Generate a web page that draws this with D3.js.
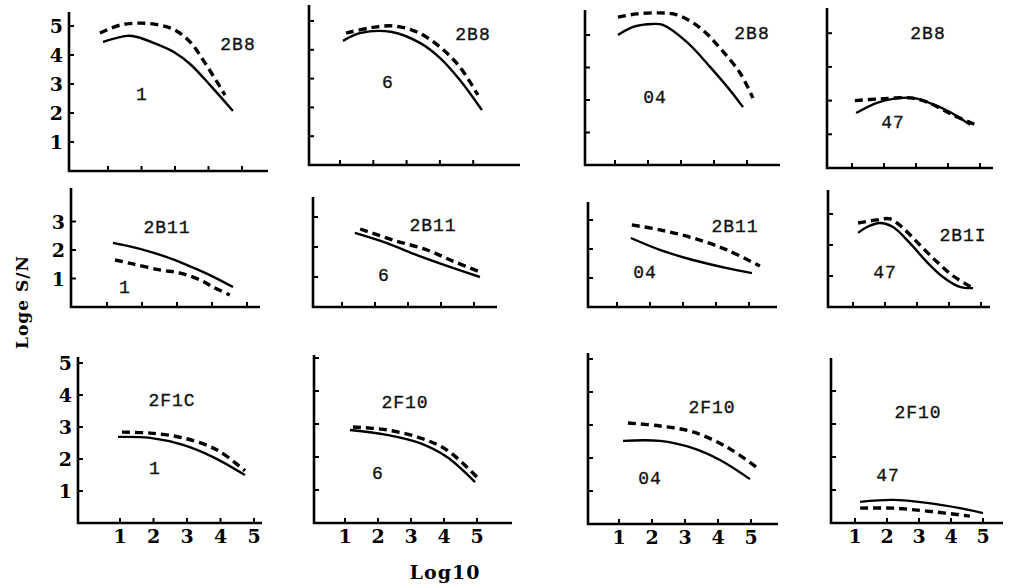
<!DOCTYPE html>
<html>
<head>
<meta charset="utf-8">
<script src="https://cdn.jsdelivr.net/npm/d3@7"></script>
<style>
  body { margin: 0; background: #fff; }
  svg { display: block; }
  .lab { font-family: "Liberation Mono", "DejaVu Sans Mono", monospace; fill: #111; stroke: #111; stroke-width: 0.35px; }
  .num { font-family: "DejaVu Serif", "Liberation Serif", serif; font-weight: bold; fill: #000; }
</style>
</head>
<body>
<div id="graf"></div>
<script>
// valores: [log10, loge S/N]
rows = ['2B8', '2B11', '2F10']
rowLabels = [['2B8', '2B8', '2B8', '2B8'], ['2B11', '2B11', '2B11', '2B1I'], ['2F1C', '2F10', '2F10', '2F10']]
cols = ['1', '6', '04', '47']
xTicks = [1, 2, 3, 4, 5]
yTicks = [[1, 2, 3, 4, 5], [1, 2, 3], [1, 2, 3, 4, 5]]

b8_1_solid  = [[0.85,4.45],[1.57,4.66],[1.87,4.62],[2.4,4.4],[3.0,4.08],[3.45,3.69],[4.04,2.97],[4.73,2.07]]
b8_1_dash   = [[0.76,4.76],[1.36,5.03],[1.96,5.1],[2.55,5.03],[3.0,4.86],[3.45,4.45],[3.9,3.72],[4.49,2.62]]
b8_6_solid  = [[1.09,4.31],[1.6,4.58],[2.56,4.62],[3.4,4.24],[4.0,3.72],[4.6,2.95],[5.26,1.91]]
b8_6_dash   = [[1.18,4.58],[1.9,4.76],[2.59,4.83],[3.31,4.62],[4.0,4.1],[4.6,3.4],[5.14,2.43]]
b8_04_solid = [[1.09,4.0],[1.55,4.25],[2.15,4.34],[2.45,4.31],[3.18,3.78],[3.88,3.02],[4.48,2.31],[4.88,1.78]]
b8_04_dash  = [[1.09,4.55],[1.67,4.65],[2.36,4.68],[2.88,4.62],[3.58,4.22],[4.18,3.6],[4.79,2.83],[5.18,2.06]]
b8_47_solid = [[1.13,1.63],[1.78,1.93],[2.28,2.05],[2.91,2.08],[3.34,1.96],[4.06,1.66],[4.69,1.28]]
b8_47_dash  = [[1.09,2.0],[1.88,2.05],[2.81,2.08],[3.34,1.96],[4.16,1.57],[4.94,1.25]]

b11_1_solid  = [[1.17,2.25],[1.94,2.04],[2.71,1.75],[3.29,1.47],[3.94,1.12],[4.6,0.7]]
b11_1_dash   = [[1.23,1.65],[1.74,1.51],[2.51,1.3],[3.09,1.19],[3.66,0.95],[4.03,0.7],[4.51,0.42]]
b11_6_solid  = [[1.39,2.47],[2.36,2.13],[3.27,1.73],[4.18,1.37],[5.18,1.0]]
b11_6_dash   = [[1.55,2.6],[2.55,2.23],[3.58,1.9],[4.36,1.53],[5.18,1.17]]
b11_04_solid = [[1.42,2.38],[2.3,1.97],[3.3,1.62],[4.33,1.34],[5.09,1.17]]
b11_04_dash  = [[1.45,2.83],[2.3,2.66],[3.3,2.38],[4.33,1.97],[5.33,1.41]]
b11_47_solid = [[1.16,2.39],[1.44,2.58],[1.84,2.71],[2.25,2.58],[2.78,2.06],[3.31,1.45],[3.81,0.97],[4.34,0.65],[4.75,0.61]]
b11_47_dash  = [[1.16,2.71],[1.75,2.81],[2.16,2.84],[2.56,2.55],[3.09,2.0],[3.63,1.45],[4.13,1.0],[4.75,0.61]]

f10_1_solid  = [[0.94,2.69],[1.9,2.66],[2.88,2.44],[3.78,2.06],[4.73,1.5]]
f10_1_dash   = [[1.06,2.84],[1.9,2.81],[2.88,2.66],[3.9,2.28],[4.73,1.63]]
f10_6_solid  = [[1.15,2.82],[2.27,2.67],[3.27,2.42],[4.09,2.0],[4.94,1.24]]
f10_6_dash   = [[1.24,2.91],[2.27,2.82],[3.27,2.58],[4.09,2.21],[5.03,1.36]]
f10_04_solid = [[1.12,2.52],[2.24,2.52],[3.24,2.3],[4.06,1.94],[4.97,1.36]]
f10_04_dash  = [[1.27,3.06],[2.24,2.97],[3.24,2.79],[4.27,2.33],[5.24,1.67]]
f10_47_solid = [[1.16,0.64],[2.19,0.7],[3.25,0.61],[4.28,0.45],[5.0,0.3]]
f10_47_dash  = [[1.16,0.45],[2.19,0.45],[3.25,0.36],[4.59,0.21]]

series = [
  [[b8_1_solid, b8_1_dash], [b8_6_solid, b8_6_dash], [b8_04_solid, b8_04_dash], [b8_47_solid, b8_47_dash]],
  [[b11_1_solid, b11_1_dash], [b11_6_solid, b11_6_dash], [b11_04_solid, b11_04_dash], [b11_47_solid, b11_47_dash]],
  [[f10_1_solid, f10_1_dash], [f10_6_solid, f10_6_dash], [f10_04_solid, f10_04_dash], [f10_47_solid, f10_47_dash]]
]

// Posicion de cada panel (eje y en ax, eje x en ay)
layout = [
  [{ax:69, ay:171, top:12, end:268, x1:108, xs:33.5, yu:29},
   {ax:309, ay:165, top:5, end:520, x1:340, xs:33.3, yu:28.8},
   {ax:585, ay:165, top:10, end:780, x1:615, xs:33, yu:32.5},
   {ax:827, ay:168, top:8, end:993, x1:852, xs:32, yu:33.7}],
  [{ax:71, ay:307, top:188, end:260, x1:107, xs:35, yu:28.5},
   {ax:313, ay:307, top:197, end:497, x1:342, xs:33, yu:30},
   {ax:588, ay:307, top:202, end:777, x1:617, xs:33, yu:29},
   {ax:828, ay:307, top:190, end:990, x1:853, xs:32, yu:31}],
  [{ax:78, ay:523, top:357, end:262, x1:120, xs:33.5, yu:32},
   {ax:314, ay:523, top:355, end:512, x1:345, xs:33, yu:33},
   {ax:588, ay:524, top:353, end:778, x1:619, xs:33, yu:33},
   {ax:831, ay:523, top:358, end:1003, x1:855, xs:32, yu:33}]
]
// Posicion de las etiquetas [nombre, numero]
labelPos = [
  [[[238,50],[142,100]], [[473,40],[388,88]], [[752,39],[655,103]], [[928,39],[893,128]]],
  [[[167,233],[125,293]], [[433,231],[384,281]], [[735,232],[645,278]], [[963,241],[885,278]]],
  [[[172,406],[155,474]], [[405,408],[378,479]], [[712,413],[650,484]], [[918,418],[888,481]]]
]

svg = d3.select('#graf').append('svg')
  .attr('width', 1010)
  .attr('height', 588)

lineaGen = d3.line().curve(d3.curveCatmullRom.alpha(0.5))

rows.forEach((r, i) => {
  cols.forEach((c, j) => {
    let L = layout[i][j]
    let x = d3.scaleLinear().domain([1, 5]).range([L.x1, L.x1 + 4 * L.xs])
    let y = d3.scaleLinear().domain([0, 1]).range([L.ay, L.ay - L.yu])
    let g = svg.append('g')

    // ejes
    g.append('line').attr('x1', L.ax).attr('x2', L.ax).attr('y1', L.top).attr('y2', L.ay + 1)
      .attr('stroke', '#000').attr('stroke-width', 2.6)
    g.append('line').attr('x1', L.ax - 1).attr('x2', L.end).attr('y1', L.ay).attr('y2', L.ay)
      .attr('stroke', '#000').attr('stroke-width', 2.6)

    let yt = yTicks[i].filter(v => y(v) > L.top + 2)
    g.selectAll('.yt').data(yt).enter().append('line')
      .attr('x1', L.ax).attr('x2', L.ax + 5)
      .attr('y1', d => y(d)).attr('y2', d => y(d))
      .attr('stroke', '#000').attr('stroke-width', 2)
    g.selectAll('.xt').data(xTicks).enter().append('line')
      .attr('x1', d => x(d)).attr('x2', d => x(d))
      .attr('y1', L.ay).attr('y2', L.ay - 5)
      .attr('stroke', '#000').attr('stroke-width', 2)

    if (j == 0) {
      g.selectAll('.yl').data(yTicks[i]).enter().append('text')
        .attr('class', 'num')
        .attr('x', L.ax - 6).attr('y', d => y(d) + 7)
        .attr('text-anchor', 'end')
        .style('font-size', '19px')
        .text(d => d)
    }
    if (i == 2) {
      g.selectAll('.xl').data(xTicks).enter().append('text')
        .attr('class', 'num')
        .attr('x', d => x(d)).attr('y', L.ay + 20)
        .attr('text-anchor', 'middle')
        .style('font-size', '19px')
        .text(d => d)
    }

    // curvas
    let s = series[i][j]
    g.append('path').attr('d', lineaGen(s[0].map(d => [x(d[0]), y(d[1])])))
      .attr('fill', 'none').attr('stroke', '#000').attr('stroke-width', 2.4)
    g.append('path').attr('d', lineaGen(s[1].map(d => [x(d[0]), y(d[1])])))
      .attr('fill', 'none').attr('stroke', '#000').attr('stroke-width', 3.4)
      .attr('stroke-dasharray', '8,5')

    // etiquetas
    let p = labelPos[i][j]
    g.append('text').attr('class', 'lab')
      .attr('x', p[0][0]).attr('y', p[0][1]).attr('text-anchor', 'middle')
      .style('font-size', '18px').style('letter-spacing', '1px')
      .text(rowLabels[i][j])
    g.append('text').attr('class', 'lab')
      .attr('x', p[1][0]).attr('y', p[1][1]).attr('text-anchor', 'middle')
      .style('font-size', '18px').style('letter-spacing', '1px')
      .text(c)
  })
})

svg.append('text').attr('class', 'num')
  .attr('transform', 'translate(28, 302) rotate(-90)')
  .attr('text-anchor', 'middle')
  .style('font-size', '17px').style('letter-spacing', '1px')
  .text('Loge S/N')
svg.append('text').attr('class', 'num')
  .attr('x', 445).attr('y', 579)
  .attr('text-anchor', 'middle')
  .style('font-size', '19px').style('letter-spacing', '1px')
  .text('Log10')
</script>
</body>
</html>
